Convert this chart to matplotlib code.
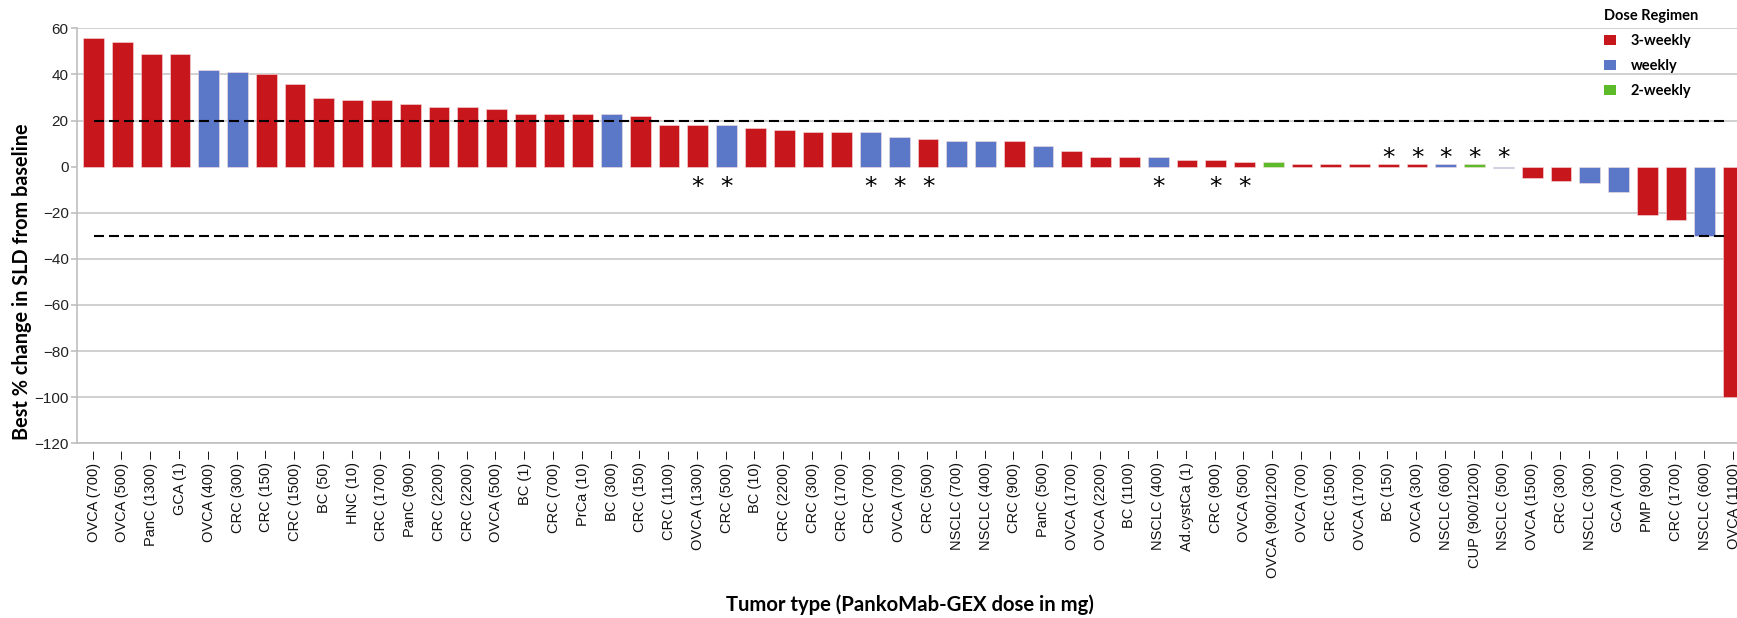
import numpy as np
import matplotlib
matplotlib.use("Agg")
from matplotlib import pyplot as plt
from matplotlib.patches import Patch

labels = ["OVCA (700)", "OVCA (500)", "PanC (1300)", "GCA (1)", "OVCA (400)", "CRC (300)",
          "CRC (150)", "CRC (1500)", "BC (50)", "HNC (10)", "CRC (1700)", "PanC (900)",
          "CRC (2200)", "CRC (2200)", "OVCA (500)", "BC (1)", "CRC (700)", "PrCa (10)",
          "BC (300)", "CRC (150)", "CRC (1100)", "OVCA (1300)", "CRC (500)", "BC (10)",
          "CRC (2200)", "CRC (300)", "CRC (1700)", "CRC (700)", "OVCA (700)", "CRC (500)",
          "NSCLC (700)", "NSCLC (400)", "CRC (900)", "PanC (500)", "OVCA (1700)", "OVCA (2200)",
          "BC (1100)", "NSCLC (400)", "Ad.cystCa (1)", "CRC (900)", "OVCA (500)",
          "OVCA (900/1200)", "OVCA (700)", "CRC (1500)", "OVCA (1700)", "BC (150)",
          "OVCA (300)", "NSCLC (600)", "CUP (900/1200)", "NSCLC (500)", "OVCA (1500)",
          "CRC (300)", "NSCLC (300)", "GCA (700)", "PMP (900)", "CRC (1700)", "NSCLC (600)",
          "OVCA (1100)"]
change = [56, 54, 49, 49, 42, 41, 40, 36, 30, 29, 29, 27, 26, 26, 25, 23, 23, 23, 23, 22,
          18, 18, 18, 17, 16, 15, 15, 15, 13, 12, 11, 11, 11, 9, 7, 4, 4, 4, 3, 3, 2, 2,
          1, 1, 1, 1, 1, 1, 1, -0.5, -5, -6, -7, -11, -21, -23, -30, -100]
regimen = ["3w", "3w", "3w", "3w", "w", "w", "3w", "3w", "3w", "3w", "3w", "3w", "3w", "3w",
           "3w", "3w", "3w", "3w", "w", "3w", "3w", "3w", "w", "3w", "3w", "3w", "3w", "w",
           "w", "3w", "w", "w", "3w", "w", "3w", "3w", "3w", "w", "3w", "3w", "3w", "2w",
           "3w", "3w", "3w", "3w", "3w", "w", "2w", "w", "3w", "3w", "w", "w", "3w", "3w",
           "w", "3w"]
star_below = [21, 22, 27, 28, 29, 37, 39, 40]
star_above = [45, 46, 47, 48, 49]
thresholds = [20, -30]

reg_colors = {"3w": "#C8161D", "w": "#5B77C8", "2w": "#5DBB2A"}
reg_names = {"3w": "3-weekly", "w": "weekly", "2w": "2-weekly"}

W, H = 1737, 618
fig = plt.figure(figsize=(W / 100, H / 100), dpi=100)
ax = fig.add_axes([77 / W, 1 - 443.3 / H, 1 - 77 / W, (443.3 - 28.4) / H])

x = np.arange(len(change))
ax.bar(x, change, width=0.72, color=[reg_colors[r] for r in regimen],
       edgecolor="#f4dede", linewidth=0.4, zorder=2)

# response thresholds
for t in thresholds:
    ax.hlines(t, 0, len(change) - 1.2, colors="black", linewidth=1.5,
              linestyles=(0, (4.8, 2.4)), zorder=3)

for i in star_below:
    ax.text(i, -8.8, "*", ha="center", va="center", fontsize=18, family="DejaVu Sans")
for i in star_above:
    ax.text(i, 3.6, "*", ha="center", va="center", fontsize=18, family="DejaVu Sans")

ax.set_xlim(-0.58, 57.12)
ax.set_ylim(-120, 60)
ax.set_yticks(np.arange(-120, 61, 20))
ax.tick_params(axis="y", labelsize=11, labelcolor="#222222", color="#BFBFBF",
               length=4, width=1.2, pad=2)
for lab in ax.get_yticklabels():
    lab.set_family("Liberation Sans")
ax.set_xticks(x)
ax.set_xticklabels([l + " \u2013" for l in labels], rotation=90, fontsize=10.5,
                   family="Liberation Sans", color="#111111")
ax.tick_params(axis="x", length=0, pad=5)

ax.grid(axis="y", color="#C8C8C8", linewidth=1.2, zorder=0)
ax.set_axisbelow(True)
for gl, v in zip(ax.yaxis.get_gridlines(), ax.get_yticks()):
    if v == 0:
        gl.set_visible(False)
for s in ["top", "right"]:
    ax.spines[s].set_visible(False)
for s in ["left", "bottom"]:
    ax.spines[s].set_color("#BFBFBF")
    ax.spines[s].set_linewidth(1.2)

fig.text(22 / W, 1 - 282 / H, "Best % change in SLD from baseline", rotation=90,
         ha="center", va="center", fontsize=14.3, fontweight="bold", family="Lato")
fig.text(910 / W, 1 - 605 / H, "Tumor type (PankoMab-GEX dose in mg)",
         ha="center", va="center", fontsize=14.6, fontweight="bold", family="Lato")

handles = [Patch(facecolor=reg_colors[k], label=reg_names[k]) for k in ["3w", "w", "2w"]]
leg = ax.legend(handles=handles, title="Dose Regimen", loc="upper left",
                bbox_to_anchor=(1604 / W, 1 - 9 / H), bbox_transform=fig.transFigure,
                frameon=False, alignment="left", borderpad=0, borderaxespad=0,
                handlelength=0.85, handleheight=0.7, handletextpad=1.0,
                labelspacing=0.75, prop={"family": "Lato", "weight": "bold", "size": 10.5},
                title_fontproperties={"family": "Lato", "weight": "bold", "size": 10.5})

fig.savefig("out.png", dpi=100)
